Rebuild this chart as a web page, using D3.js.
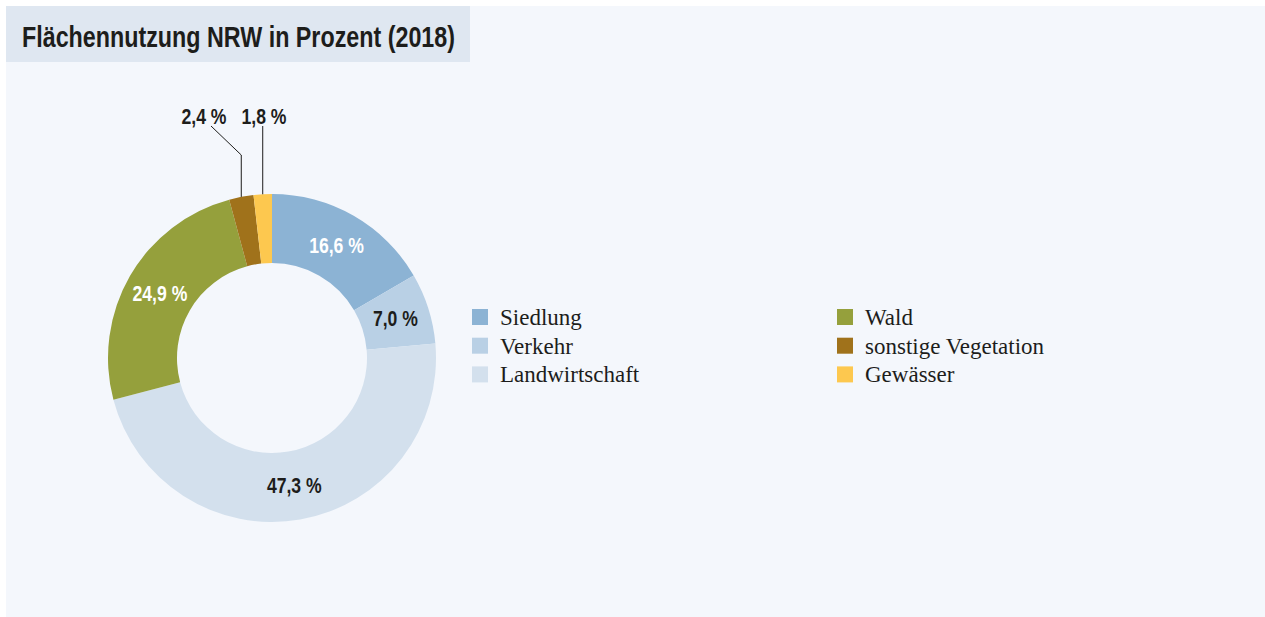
<html>

<head>
	<meta charset="utf-8">
	<title>Flächennutzung NRW</title>
	<script src="https://d3js.org/d3.v7.min.js"></script>
	<style>
		body {
			margin: 0;
			background: #fff;
		}
	</style>
</head>

<body>
	<div id="chart"></div>
	<script>
		// data
		let categories = ["Siedlung", "Verkehr", "Landwirtschaft", "Wald", "sonstige Vegetation", "Gewässer"];
		let values = [16.6, 7.0, 47.3, 24.9, 2.4, 1.8];
		let labels = ["16,6 %", "7,0 %", "47,3 %", "24,9 %", "2,4 %", "1,8 %"];
		let colors = ["#8cb3d4", "#b9d0e5", "#d3e0ed", "#95a03c", "#a0721b", "#fdc84f"];
		let labelColors = ["#fff", "#1d1d1b", "#1d1d1b", "#fff", "#1d1d1b", "#1d1d1b"];

		let W = 1265, H = 617;
		let svg = d3.select("#chart").append("svg").attr("width", W).attr("height", H);
		let font = "'Liberation Sans', Arial, sans-serif";

		svg.append("rect").attr("x", 6).attr("y", 6).attr("width", W - 6).attr("height", H - 6).attr("fill", "#f4f7fc");
		svg.append("rect").attr("x", 6).attr("y", 6).attr("width", 464).attr("height", 56).attr("fill", "#dfe7f1");
		svg.append("text").attr("x", 22).attr("y", 47)
			.attr("font-family", font)
			.attr("font-weight", "bold").attr("font-size", 30).attr("fill", "#1d1d1b")
			.attr("textLength", 433).attr("lengthAdjust", "spacingAndGlyphs")
			.text("Flächennutzung NRW in Prozent (2018)");

		let cx = 272, cy = 358, rOut = 164, rIn = 95;
		let pie = d3.pie().sort(null).value(d => d);
		let arcs = pie(values);
		let arc = d3.arc().innerRadius(rIn).outerRadius(rOut);

		let g = svg.append("g").attr("transform", "translate(" + cx + "," + cy + ")");
		g.selectAll("path").data(arcs).enter().append("path")
			.attr("d", arc)
			.attr("fill", (d, i) => colors[i]);

		// narrow bold label, squeezed horizontally
		function pctLabel(sel, x, y, txt, col) {
			sel.append("text")
				.attr("transform", "translate(" + x + "," + y + ") scale(0.8,1)")
				.attr("text-anchor", "middle").attr("dy", "0.35em")
				.attr("font-family", font).attr("font-weight", "bold").attr("font-size", 22)
				.attr("fill", col)
				.text(txt);
		}

		arcs.filter(d => d.value > 5).forEach(function (d) {
			let c = arc.centroid(d);
			pctLabel(g, c[0], c[1], labels[d.index], labelColors[d.index]);
		});

		// leader lines for the small slices
		let small = arcs.filter(d => d.value < 5);
		let labelX = [204, 264];
		small.forEach(function (d, k) {
			let a = (d.startAngle + d.endAngle) / 2;
			let x0 = rOut * Math.sin(a), y0 = -rOut * Math.cos(a);
			let lx = labelX[k] - cx;
			let pts;
			if (k == 0) pts = [[x0, y0], [x0, 155 - cy], [lx + 7, 126 - cy]];
			else pts = [[x0, y0], [x0, 126 - cy]];
			g.append("path").attr("d", d3.line()(pts))
				.attr("fill", "none").attr("stroke", "#1d1d1b").attr("stroke-width", 1);
			pctLabel(g, lx, 116 - cy, labels[d.index], "#1d1d1b");
		});

		// legend
		let legend = svg.append("g");
		let items = legend.selectAll("g").data(categories).enter().append("g")
			.attr("transform", (d, i) => "translate(" + (i < 3 ? 472 : 837) + "," + (309 + (i % 3) * 28.7) + ")");
		items.append("rect").attr("width", 16).attr("height", 16).attr("fill", (d, i) => colors[i]);
		items.append("text").attr("x", 28).attr("y", 16)
			.attr("font-family", "'Liberation Serif', serif").attr("font-size", 23)
			.attr("fill", "#1d1d1b")
			.text(d => d);
	</script>
</body>

</html>
